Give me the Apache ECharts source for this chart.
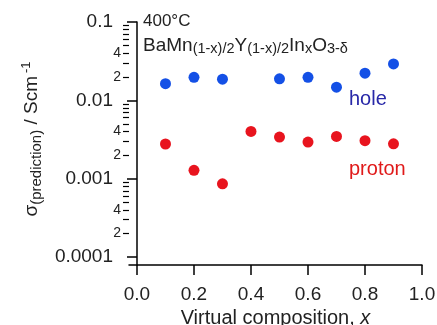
<!DOCTYPE html>
<html>
<head>
<meta charset="utf-8">
<script src="https://cdn.jsdelivr.net/npm/echarts@6/dist/echarts.min.js"></script>
<style>
  html, body { margin: 0; padding: 0; background: #fff; }
  #chart { width: 437px; height: 325px; }
</style>
</head>
<body>
<div id="chart"></div>
<script>
const holeX = [0.1, 0.2, 0.3, 0.5, 0.6, 0.7, 0.8, 0.9];
const holeY = [0.0163, 0.0197, 0.0186, 0.0188, 0.0197, 0.0147, 0.0222, 0.0292];
const protonX = [0.1, 0.2, 0.3, 0.4, 0.5, 0.6, 0.7, 0.8, 0.9];
const protonY = [0.00277, 0.00128, 0.00086, 0.00401, 0.0034, 0.00293, 0.00346, 0.00305, 0.00279];

const xTicks = [0, 0.2, 0.4, 0.6, 0.8, 1.0];
const yMajor = [0.0001, 0.001, 0.01, 0.1];
const yMinor = [];
const yMinorLabels = [];
yMajor.slice(0, 3).forEach(d => {
  for (let k = 2; k <= 9; k++) yMinor.push(+(d * k).toPrecision(3));
  yMinorLabels.push(+(d * 2).toPrecision(3), +(d * 4).toPrecision(3));
});

const font = 'Liberation Sans, Arial, sans-serif';
const chart = echarts.init(document.getElementById('chart'));

const option = {
  animation: false,
  grid: { left: 129, right: 15, top: 22, bottom: 60, outerBoundsMode: 'none', containLabel: false },
  xAxis: {
    type: 'value',
    min: -0.028,
    max: 1.0,
    splitLine: { show: false },
    axisLine: { lineStyle: { color: '#000', width: 1.5 } },
    axisTick: { customValues: xTicks, length: 10, lineStyle: { color: '#000', width: 1.5 } },
    axisLabel: {
      customValues: xTicks,
      margin: 20,
      color: '#222',
      fontFamily: font,
      fontSize: 19,
      formatter: v => v.toFixed(1)
    },
    name: '{n|Virtual composition, }{i|x}',
    nameLocation: 'middle',
    nameGap: 42,
    nameTextStyle: {
      rich: {
        n: { fontFamily: font, fontSize: 20, color: '#222' },
        i: { fontFamily: font, fontSize: 20, color: '#222', fontStyle: 'italic' }
      }
    }
  },
  yAxis: [
    {
      type: 'log',
      min: Math.pow(10, -4.102),
      max: 0.1,
      splitLine: { show: false },
      axisLine: { lineStyle: { color: '#000', width: 1.5 } },
      axisTick: { customValues: yMajor, length: 10, lineStyle: { color: '#000', width: 1.5 } },
      axisLabel: {
        customValues: yMajor,
        margin: 16,
        color: '#222',
        fontFamily: font,
        fontSize: 19,
        formatter: v => String(+v.toPrecision(1))
      },
      name: '{a|σ}{s|(prediction)}{a| / Scm}{p|-1}',
      nameLocation: 'middle',
      nameRotate: 90,
      nameGap: 85,
      nameTextStyle: {
        padding: [0, 0, 0, 9],
        rich: {
          a: { fontFamily: font, fontSize: 19, color: '#222', lineHeight: 24 },
          s: { fontFamily: font, fontSize: 15, color: '#222', lineHeight: 14, verticalAlign: 'bottom' },
          p: { fontFamily: font, fontSize: 13, color: '#222', lineHeight: 13, verticalAlign: 'top', padding: [0, 0, 0, 3] }
        }
      }
    },
    {
      type: 'log',
      min: Math.pow(10, -4.102),
      max: 0.1,
      position: 'left',
      splitLine: { show: false },
      axisLine: { show: false },
      axisTick: { customValues: yMinor, length: 6, lineStyle: { color: '#000', width: 1.2 } },
      axisLabel: {
        customValues: yMinorLabels,
        margin: 8,
        color: '#222',
        fontFamily: font,
        fontSize: 14,
        formatter: v => String(+v.toPrecision(1)).replace(/[0.]/g, '').charAt(0)
      }
    }
  ],
  graphic: [
    {
      type: 'text', left: 143, top: 13,
      style: { text: '400°C', font: '17px ' + font, fill: '#222' }
    },
    {
      type: 'text', left: 143, top: 36,
      style: {
        text: '{m|BaMn}{s|(1-x)/2}{m|Y}{s|(1-x)/2}{m|In}{s|x}{m|O}{s|3-δ}',
        rich: {
          m: { fontFamily: font, fontSize: 19, fill: '#222', lineHeight: 21 },
          s: { fontFamily: font, fontSize: 14.5, fill: '#222', lineHeight: 13, verticalAlign: 'bottom' }
        }
      }
    },
    {
      type: 'text', left: 349, top: 89,
      style: { text: 'hole', font: '20px ' + font, fill: '#2828a8' }
    },
    {
      type: 'text', left: 349, top: 159,
      style: { text: 'proton', font: '20px ' + font, fill: '#e01a1a' }
    }
  ],
  series: [
    {
      name: 'hole',
      type: 'scatter',
      yAxisIndex: 0,
      symbolSize: 11,
      itemStyle: { color: '#1450e6', opacity: 1 },
      data: holeX.map((x, i) => [x, holeY[i]])
    },
    {
      name: 'proton',
      type: 'scatter',
      yAxisIndex: 0,
      symbolSize: 11,
      itemStyle: { color: '#e8141e', opacity: 1 },
      data: protonX.map((x, i) => [x, protonY[i]])
    }
  ]
};

chart.setOption(option);
</script>
</body>
</html>
